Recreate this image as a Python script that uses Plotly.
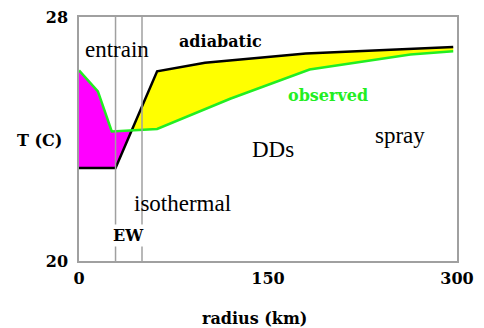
import numpy as np
import plotly.graph_objects as go

# ---- data ----
adiabatic_r = [0, 29, 62, 100, 180, 297]
adiabatic_T = [23.05, 23.05, 26.22, 26.5, 26.8, 27.02]

observed_r = [0, 15, 26, 62, 120, 183, 263, 297]
observed_T = [26.25, 25.56, 24.25, 24.33, 25.32, 26.28, 26.77, 26.88]

boundaries_r = [29, 50]          # vertical region lines (EW)
x_ticks = [0, 150, 300]
y_ticks = [20, 28]

# ---- common grid with crossing points inserted ----
r = np.array(sorted(set(adiabatic_r) | set(observed_r)), dtype=float)
a = np.interp(r, adiabatic_r, adiabatic_T)
o = np.interp(r, observed_r, observed_T)
rr, aa, oo = [r[0]], [a[0]], [o[0]]
for i in range(1, len(r)):
    d0, d1 = o[i - 1] - a[i - 1], o[i] - a[i]
    if d0 * d1 < 0:
        t = d0 / (d0 - d1)
        rc = r[i - 1] + t * (r[i] - r[i - 1])
        tc = a[i - 1] + t * (a[i] - a[i - 1])
        rr.append(rc); aa.append(tc); oo.append(tc)
    rr.append(r[i]); aa.append(a[i]); oo.append(o[i])
rr, aa, oo = np.array(rr), np.array(aa), np.array(oo)
hi = np.maximum(aa, oo)
lo = np.minimum(aa, oo)

SERIF = "Liberation Serif, Times New Roman, serif"
BOLD = dict(family="DejaVu Serif, serif", size=16, color="black", weight="bold")

fig = go.Figure()
# magenta: observed warmer than adiabatic
fig.add_trace(go.Scatter(x=rr, y=aa, mode="lines", line=dict(width=0), hoverinfo="skip", showlegend=False))
fig.add_trace(go.Scatter(x=rr, y=hi, mode="lines", line=dict(width=0), fill="tonexty",
                         fillcolor="#FF00FF", hoverinfo="skip", showlegend=False))
# yellow: adiabatic warmer than observed
fig.add_trace(go.Scatter(x=rr, y=lo, mode="lines", line=dict(width=0), hoverinfo="skip", showlegend=False))
fig.add_trace(go.Scatter(x=rr, y=aa, mode="lines", line=dict(width=0), fill="tonexty",
                         fillcolor="#FFFF00", hoverinfo="skip", showlegend=False))
# lines
fig.add_trace(go.Scatter(x=adiabatic_r, y=adiabatic_T, mode="lines",
                         line=dict(color="black", width=2.5), name="adiabatic", showlegend=False))
fig.add_trace(go.Scatter(x=observed_r, y=observed_T, mode="lines",
                         line=dict(color="#22EE22", width=2.5), name="observed", showlegend=False))

for b in boundaries_r:
    fig.add_shape(type="line", x0=b, x1=b, y0=20, y1=28, xref="x", yref="y",
                  line=dict(color="#A0A0A0", width=1.5), layer="above")

def note(text, x, y, font, **kw):
    fig.add_annotation(text=text, x=x, y=y, xref="x", yref="y", showarrow=False, font=font,
                       xanchor="center", yanchor="middle", **kw)

reg = dict(family=SERIF, size=23, color="black")
note("entrain", 30.5, 26.93, reg)
note("adiabatic", 112.5, 27.2, BOLD)
note("observed", 198, 25.42, dict(BOLD, color="#22EE22"))
note("DDs", 154, 23.65, reg)
note("spray", 255, 24.1, reg)
note("isothermal", 82, 21.9, reg)
note("EW", 39.5, 20.84, BOLD, bgcolor="white", borderpad=1)

# axis labels
fig.add_annotation(text="T (C)", x=-0.105, y=0.495, xref="paper", yref="paper",
                   xanchor="center", yanchor="middle", showarrow=False, font=BOLD)
fig.add_annotation(text="radius (km)", x=0.465, y=-0.235, xref="paper", yref="paper",
                   xanchor="center", yanchor="middle", showarrow=False, font=BOLD)

fig.update_xaxes(range=[0, 300], tickvals=x_ticks, ticktext=[str(v) for v in x_ticks],
                 showgrid=False, zeroline=False, showline=True, linecolor="#A0A0A0",
                 linewidth=1.5, mirror=True, ticks="", tickfont=BOLD, ticklabelstandoff=2,
                 automargin=False, ticklabeloverflow="allow")
fig.update_yaxes(range=[20, 28], tickvals=y_ticks, ticktext=[str(v) for v in y_ticks],
                 showgrid=False, zeroline=False, showline=True, linecolor="#A0A0A0",
                 linewidth=1.5, mirror=True, ticks="", tickfont=BOLD, ticklabelstandoff=6,
                 automargin=False, ticklabeloverflow="allow")

# page body has an 8px margin, so the figure is sized to end at the window edge
fig.update_layout(width=476, height=320, margin=dict(l=71, r=27, t=9, b=67, autoexpand=False),
                  paper_bgcolor="white", plot_bgcolor="white", showlegend=False)

fig.write_html("out.html")
